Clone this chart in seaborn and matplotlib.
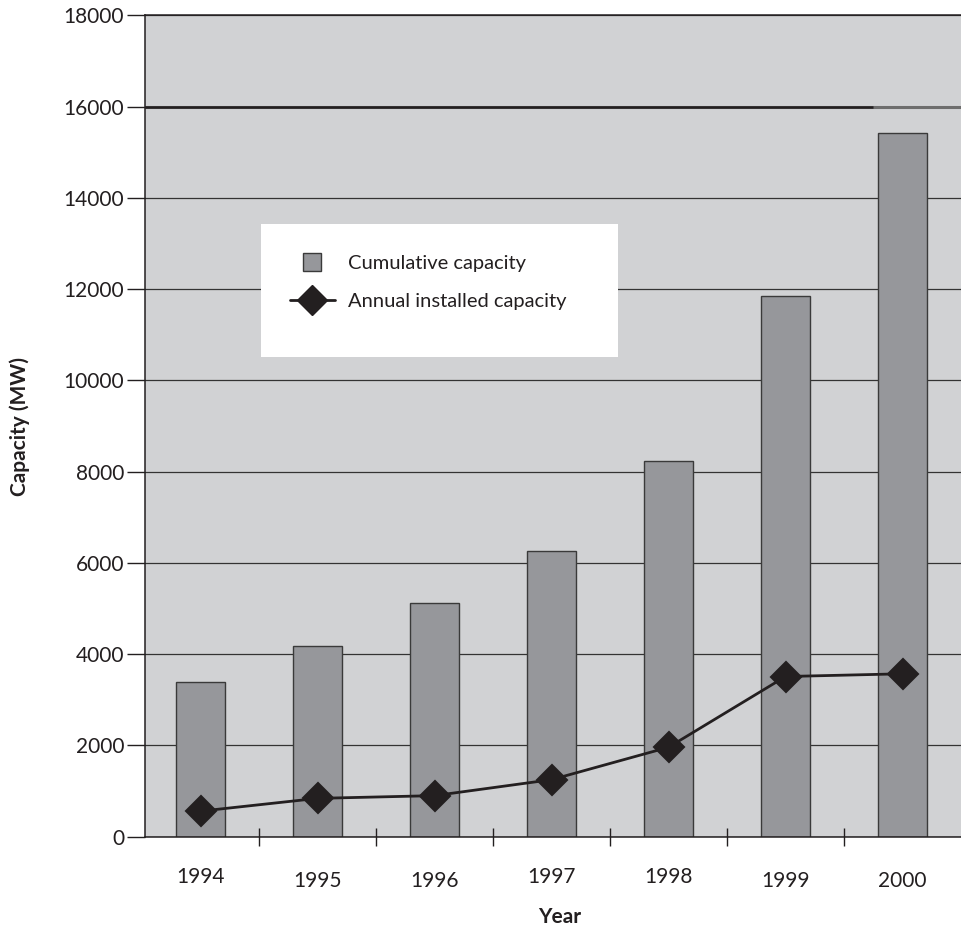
import matplotlib
matplotlib.use('Agg')
import matplotlib.pyplot as plt
import matplotlib.transforms as mtransforms
from matplotlib.lines import Line2D
from matplotlib.patches import Rectangle
import numpy as np
import pandas as pd
import seaborn as sns

# data
years = ['1994', '1995', '1996', '1997', '1998', '1999', '2000']
cumulative = [3400, 4170, 5130, 6270, 8240, 11840, 15430]   # MW, bars
annual = [560, 840, 900, 1250, 1960, 3510, 3570]            # MW, diamonds
yticks = list(range(0, 18001, 2000))

df = pd.DataFrame({'Year': years, 'Cumulative': cumulative, 'Annual': annual})

sns.set_style('ticks')
plt.rcParams['font.family'] = ['Lato', 'DejaVu Sans']

bg = '#d1d2d4'
bar_col = '#96979b'
ink = '#231f20'

fig = plt.figure(figsize=(9.61, 9.30), dpi=100)
ax = fig.add_axes([145 / 961, 1 - 836.7 / 930, 816 / 961, 821.4 / 930])
ax.set_facecolor(bg)

sns.barplot(data=df, x='Year', y='Cumulative', color=bar_col, saturation=1,
            width=0.42, edgecolor='#3a3a3a', linewidth=1.0,
            label='Cumulative capacity', ax=ax, zorder=2)
sns.pointplot(data=df, x='Year', y='Annual', color=ink, markers='D',
              markersize=15, linewidth=2.0, errorbar=None,
              label='Annual installed capacity', ax=ax, zorder=4)

ax.set_xlim(-0.475, 6.5)
ax.set_ylim(0, 18000)
ax.set_yticks(yticks)
ax.set_yticklabels([str(v) for v in yticks])

# horizontal grid
ax.set_axisbelow(True)
ax.yaxis.grid(True, color='#333333', lw=0.9)
ax.xaxis.grid(False)
gl = ax.get_ygridlines()
gl[8].set_color('#6e6e6e')
gl[8].set_linewidth(2.2)
ax.hlines(16000, -0.475, 5.75, color=ink, lw=1.8, zorder=1.5)

for s in ['left', 'bottom', 'top']:
    ax.spines[s].set_color(ink)
    ax.spines[s].set_linewidth(1.1)
ax.spines['right'].set_visible(False)

ax.tick_params(axis='y', length=13, width=1.0, color=ink, pad=2, labelsize=15,
               labelcolor=ink)
ax.yaxis.get_major_ticks()[8].tick1line.set_color('#6e6e6e')
ax.set_xticks(np.arange(len(years) - 1) + 0.5, minor=True)
ax.tick_params(axis='x', which='major', length=0, pad=22, labelsize=15,
               labelcolor=ink)
ax.tick_params(axis='x', which='minor', direction='inout', length=13,
               width=1.0, color=ink)

# slight stagger of year labels as in the original
drops = [0, 4, 4, 0, 0, 4, 4]
for lab, d in zip(ax.get_xticklabels(), drops):
    lab.set_transform(lab.get_transform() +
                      mtransforms.ScaledTranslation(0, -d / 100, fig.dpi_scale_trans))

ax.set_xlabel('Year', fontsize=15, fontweight='bold', color=ink, va='center')
ax.set_ylabel('Capacity (MW)', fontsize=15, fontweight='bold', color=ink, va='center')
ax.xaxis.set_label_coords(0.5086, -0.0978)
ax.yaxis.set_label_coords(-0.153, 0.5)

# legend on a white box
ax.add_patch(Rectangle((0.1422, 0.5836), 0.4375, 0.1623, transform=ax.transAxes,
                       facecolor='white', edgecolor='none', zorder=4.5))
handles = [Line2D([], [], ls='none', marker='s', markersize=13,
                  markerfacecolor=bar_col, markeredgecolor='#3a3a3a', markeredgewidth=1.0),
           Line2D([], [], color=ink, lw=2.0, marker='D', markersize=15)]
labels = ['Cumulative capacity', 'Annual installed capacity']
ax.legend(handles, labels, loc='upper left', bbox_to_anchor=(0.178, 0.708),
          frameon=False, fontsize=14.5, handlelength=2.2, handletextpad=0.65,
          labelspacing=1.05, borderaxespad=0, borderpad=0,
          labelcolor=ink)

fig.savefig('out.png', dpi=100, facecolor='white')
